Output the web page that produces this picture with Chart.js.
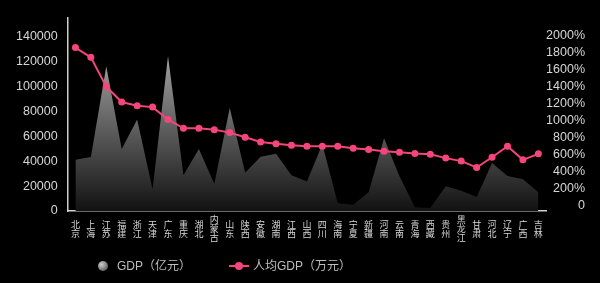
<!DOCTYPE html>
<html>
<head>
<meta charset="utf-8">
<script src="https://cdn.jsdelivr.net/npm/chart.js@4"></script>
<style>
  body { margin: 0; background: #000; }
  #wrap { position: relative; width: 600px; height: 283px; background: #000; }
  #legend { position: absolute; left: 0; top: 0; width: 600px; height: 283px; pointer-events: none;
    font: 12px 'Liberation Sans', 'Noto Sans CJK SC', sans-serif; color: #bdbdbd; }
  #legend span { position: absolute; top: 258px; line-height: 16px; white-space: nowrap; }
  .dot { position: absolute; border-radius: 50%; }
  .bar { position: absolute; height: 2px; }
</style>
</head>
<body>
<div id="wrap">
  <canvas id="chart" width="600" height="283"></canvas>
  <div id="legend"></div>
</div>
<script>
const provinces = [
    ['北', '京'], ['上', '海'], ['江', '苏'], ['福', '建'], ['浙', '江'], ['天', '津'], ['广', '东'],
    ['重', '庆'], ['湖', '北'], ['内', '蒙', '古'], ['山', '东'], ['陕', '西'], ['安', '徽'], ['湖', '南'],
    ['江', '西'], ['山', '西'], ['四', '川'], ['海', '南'], ['宁', '夏'], ['新', '疆'], ['河', '南'],
    ['云', '南'], ['青', '海'], ['西', '藏'], ['贵', '州'], ['黑', '龙', '江'], ['甘', '肃'], ['河', '北'],
    ['辽', '宁'], ['广', '西'], ['吉', '林']
]
// GDP (亿元)
const gdp = [
    41100, 43350, 116400, 49850, 73500, 17400, 124600, 28650, 49850, 21900, 82750,
    30650, 43600, 46100, 28650, 23700, 53600, 6200, 5000, 15000, 58500,
    28000, 3000, 2500, 19900, 16200, 11200, 38600, 28200, 25600, 15000
]
// 人均GDP, shown on the % axis
const perCapita = [
    1860, 1745, 1400, 1220, 1175, 1160, 1015, 910, 910, 895, 860,
    805, 750, 730, 710, 700, 700, 700, 675, 660, 640,
    630, 615, 605, 560, 525, 450, 570, 700, 540, 610
]
const leftTicks = [0, 20000, 40000, 60000, 80000, 100000, 120000, 140000]
const rightTicks = [0, 200, 400, 600, 800, 1000, 1200, 1400, 1600, 1800, 2000]

const pink = '#f5457b'
const tickColor = '#d6d6d6'

function areaFill(context) {
    const { ctx, chartArea } = context.chart
    if (!chartArea) return '#555'
    const g = ctx.createLinearGradient(0, chartArea.top, 0, chartArea.bottom)
    g.addColorStop(0, '#c4c4c4')
    g.addColorStop(1, '#121212')
    return g
}

const options = {
    type: 'line',
    data: {
        labels: provinces,
        datasets: [{
            label: '人均GDP（万元）',
            data: perCapita,
            yAxisID: 'y1',
            borderColor: pink,
            backgroundColor: pink,
            borderWidth: 2,
            pointRadius: 3.5,
            pointBorderWidth: 0,
            tension: 0,
            order: 1
        }, {
            label: 'GDP（亿元）',
            data: gdp,
            yAxisID: 'y',
            borderWidth: 0,
            pointRadius: 0,
            fill: 'origin',
            backgroundColor: areaFill,
            tension: 0,
            order: 2
        }]
    },
    options: {
        responsive: false,
        animation: false,
        layout: { padding: { left: 6, right: 15, top: 12, bottom: 27 } },
        plugins: { legend: { display: false }, tooltip: { enabled: false } },
        scales: {
            x: {
                offset: true,
                grid: { display: false, drawTicks: false },
                border: { display: true, color: '#cfcfcf', width: 1.5 },
                ticks: {
                    color: tickColor,
                    autoSkip: false,
                    maxRotation: 0,
                    padding: 9,
                    crossAlign: 'center',
                    font: { family: "'Noto Sans CJK SC'", size: 9, lineHeight: 1 }
                }
            },
            y: {
                position: 'left',
                min: 0,
                max: 155500,
                afterBuildTicks: axis => { axis.ticks = leftTicks.map(v => ({ value: v })) },
                grid: { display: false, drawTicks: false },
                border: { display: true, color: '#cfcfcf', width: 1.5 },
                ticks: {
                    color: tickColor,
                    padding: 10,
                    font: { family: "'Liberation Sans'", size: 12.5 },
                    callback: v => String(v)
                }
            },
            y1: {
                position: 'right',
                min: -62,
                max: 2214,
                afterBuildTicks: axis => { axis.ticks = rightTicks.map(v => ({ value: v })) },
                grid: { display: false, drawTicks: false },
                border: { display: false },
                ticks: {
                    color: tickColor,
                    padding: 0,
                    crossAlign: 'far',
                    font: { family: "'Liberation Sans'", size: 12.5 },
                    callback: v => v === 0 ? '0' : v + '%'
                }
            }
        }
    }
}

const ctx = document.getElementById('chart').getContext('2d')
const chart = new Chart(ctx, options)

// legend under the axis, built from the datasets
const legend = document.getElementById('legend')
const area = chart.data.datasets[1]
const line = chart.data.datasets[0]

const d1 = document.createElement('div')
d1.className = 'dot'
d1.style.cssText = 'left:98px;top:261px;width:10px;height:10px;background:radial-gradient(circle at 35% 35%, #cfcfcf, #3a3a3a);'
legend.append(d1)
const t1 = document.createElement('span')
t1.style.left = '117px'
t1.innerText = area.label
legend.append(t1)

const b2 = document.createElement('div')
b2.className = 'bar'
b2.style.cssText = 'left:229px;top:265px;width:20px;background:' + line.borderColor
legend.append(b2)
const d2 = document.createElement('div')
d2.className = 'dot'
d2.style.cssText = 'left:235px;top:262px;width:8px;height:8px;background:' + line.borderColor
legend.append(d2)
const t2 = document.createElement('span')
t2.style.left = '253px'
t2.innerText = line.label
legend.append(t2)
</script>
</body>
</html>
